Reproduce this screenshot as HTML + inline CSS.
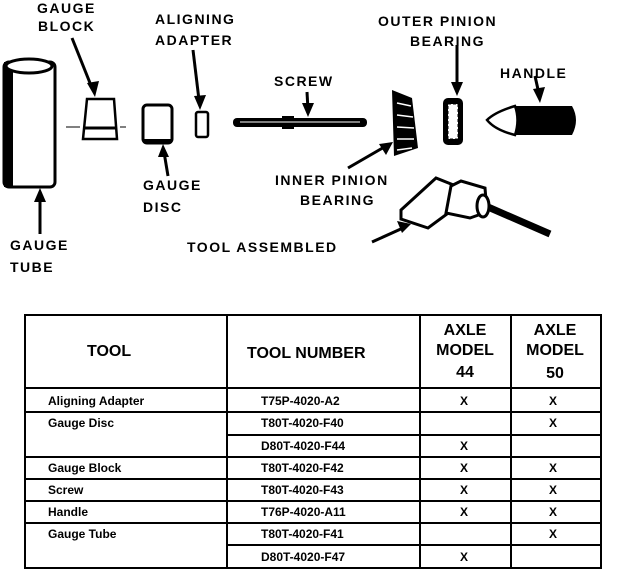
<!DOCTYPE html>
<html><head><meta charset="utf-8"><style>
html,body{margin:0;padding:0;background:#fff;}
svg text{font-family:"Liberation Sans",sans-serif;font-weight:bold;fill:#000;}
</style></head><body>
<svg width="624" height="574" viewBox="0 0 624 574" xmlns="http://www.w3.org/2000/svg">
<g font-size="14" letter-spacing="1.5">
<text x="37" y="13">GAUGE</text><text x="38" y="31">BLOCK</text>
<text x="155" y="24">ALIGNING</text><text x="155" y="45">ADAPTER</text>
<text x="274" y="86">SCREW</text>
<text x="378" y="26">OUTER PINION</text><text x="410" y="46">BEARING</text>
<text x="500" y="78">HANDLE</text>
<text x="143" y="190">GAUGE</text><text x="143" y="212">DISC</text>
<text x="275" y="185">INNER PINION</text><text x="300" y="205">BEARING</text>
<text x="10" y="250">GAUGE</text><text x="10" y="272">TUBE</text>
<text x="187" y="252">TOOL ASSEMBLED</text>
</g>
<g stroke="#000" stroke-width="3" fill="none">
<line x1="72" y1="38" x2="92" y2="88"/>
<line x1="193" y1="50" x2="199" y2="100"/>
<line x1="307" y1="92" x2="308" y2="110"/>
<line x1="457" y1="45" x2="457" y2="88"/>
<line x1="535" y1="76" x2="539" y2="94"/>
<line x1="168" y1="176" x2="164" y2="152"/>
<line x1="348" y1="168" x2="386" y2="146"/>
<line x1="40" y1="234" x2="40" y2="198"/>
<line x1="372" y1="242" x2="403" y2="228"/>
</g>
<g fill="#000">
<polygon points="95,97 87,83 99,81"/>
<polygon points="200,110 194,96 206,95"/>
<polygon points="308,117 302,103 314,103"/>
<polygon points="457,96 451,82 463,82"/>
<polygon points="540,103 533,89 545,87"/>
<polygon points="163,144 158,157 169,157"/>
<polygon points="393,142 379,144 386,155"/>
<polygon points="40,188 34,202 46,202"/>
<polygon points="411,224 397,221 402,233"/>
</g>
<!-- gauge tube -->
<rect x="4" y="62" width="51" height="125" rx="5" fill="#fff" stroke="#000" stroke-width="3"/>
<rect x="4" y="62" width="9" height="125" fill="#000"/>
<ellipse cx="29" cy="66" rx="23" ry="7" fill="#fff" stroke="#000" stroke-width="3"/>
<!-- gauge block -->
<polygon points="87,99 114,99 117,139 83,139" fill="#fff" stroke="#000" stroke-width="2.5"/>
<line x1="83" y1="128" x2="117" y2="128" stroke="#000" stroke-width="3"/>
<line x1="66" y1="127" x2="80" y2="127" stroke="#000" stroke-width="1"/>
<line x1="120" y1="127" x2="126" y2="127" stroke="#000" stroke-width="1"/>
<!-- gauge disc -->
<rect x="143" y="105" width="29" height="38" rx="4" fill="#fff" stroke="#000" stroke-width="3"/>
<line x1="143" y1="141" x2="172" y2="141" stroke="#000" stroke-width="4"/>
<!-- adapter -->
<rect x="196" y="112" width="12" height="25" rx="2" fill="#fff" stroke="#000" stroke-width="2.5"/>
<!-- screw -->
<rect x="233" y="118" width="134" height="9" rx="4" fill="#000"/>
<rect x="282" y="116" width="12" height="13" fill="#000"/>
<line x1="240" y1="122" x2="360" y2="122" stroke="#fff" stroke-width="1"/>
<!-- inner bearing -->
<polygon points="392,90 412,98 418,148 394,156" fill="#000"/>
<g stroke="#fff" stroke-width="1.5"><line x1="397" y1="103" x2="411" y2="106"/><line x1="397" y1="115" x2="413" y2="117"/><line x1="397" y1="127" x2="414" y2="128"/><line x1="397" y1="139" x2="414" y2="139"/><line x1="397" y1="150" x2="412" y2="148"/></g>
<!-- outer bearing -->
<rect x="443" y="98" width="20" height="47" rx="5" fill="#000"/>
<rect x="448" y="104" width="10" height="35" fill="#fff" stroke="#000" stroke-dasharray="3 2"/>
<!-- handle -->
<path d="M515,106 L572,106 Q580,120 572,135 L515,135 Z" fill="#000"/>
<path d="M515,106 Q495,112 487,120 Q495,130 515,135 Q520,120 515,106 Z" fill="#fff" stroke="#000" stroke-width="2.5"/>
<!-- tool assembled -->
<line x1="488" y1="207" x2="550" y2="234" stroke="#000" stroke-width="7"/>
<polygon points="401,210 436,178 456,186 447,214 428,228 401,219" fill="#fff" stroke="#000" stroke-width="3"/>
<polygon points="451,186 461,181 485,188 487,212 470,218 446,213" fill="#fff" stroke="#000" stroke-width="3"/>
<ellipse cx="483" cy="206" rx="6" ry="11" fill="#fff" stroke="#000" stroke-width="3"/>
<!-- table -->
<g stroke="#000" stroke-width="2" fill="none">
<rect x="25" y="315" width="576" height="253"/>
<line x1="227" y1="315" x2="227" y2="568"/>
<line x1="420" y1="315" x2="420" y2="568"/>
<line x1="511" y1="315" x2="511" y2="568"/>
<line x1="25" y1="388" x2="601" y2="388"/>
<line x1="25" y1="412" x2="601" y2="412"/>
<line x1="227" y1="435" x2="601" y2="435"/>
<line x1="25" y1="457" x2="601" y2="457"/>
<line x1="25" y1="479" x2="601" y2="479"/>
<line x1="25" y1="501" x2="601" y2="501"/>
<line x1="25" y1="523" x2="601" y2="523"/>
<line x1="227" y1="545" x2="601" y2="545"/>
</g>
<g font-size="16">
<text x="87" y="356">TOOL</text>
<text x="247" y="358">TOOL NUMBER</text>
<text x="465" y="335" text-anchor="middle">AXLE</text>
<text x="465" y="355" text-anchor="middle">MODEL</text>
<text x="465" y="377" text-anchor="middle">44</text>
<text x="555" y="335" text-anchor="middle">AXLE</text>
<text x="555" y="355" text-anchor="middle">MODEL</text>
<text x="555" y="378" text-anchor="middle">50</text>
</g>
<g font-size="12">
<text x="48" y="405">Aligning Adapter</text>
<text x="48" y="427">Gauge Disc</text>
<text x="48" y="472">Gauge Block</text>
<text x="48" y="494">Screw</text>
<text x="48" y="516">Handle</text>
<text x="48" y="538">Gauge Tube</text>
<text x="261" y="405">T75P-4020-A2</text>
<text x="261" y="427">T80T-4020-F40</text>
<text x="261" y="450">D80T-4020-F44</text>
<text x="261" y="472">T80T-4020-F42</text>
<text x="261" y="494">T80T-4020-F43</text>
<text x="261" y="516">T76P-4020-A11</text>
<text x="261" y="538">T80T-4020-F41</text>
<text x="261" y="561">D80T-4020-F47</text>
</g>
<g font-size="12" text-anchor="middle">
<text x="464" y="405">X</text><text x="553" y="405">X</text>
<text x="553" y="427">X</text>
<text x="464" y="450">X</text>
<text x="464" y="472">X</text><text x="553" y="472">X</text>
<text x="464" y="494">X</text><text x="553" y="494">X</text>
<text x="464" y="516">X</text><text x="553" y="516">X</text>
<text x="553" y="538">X</text>
<text x="464" y="561">X</text>
</g>
</svg>
</body></html>
